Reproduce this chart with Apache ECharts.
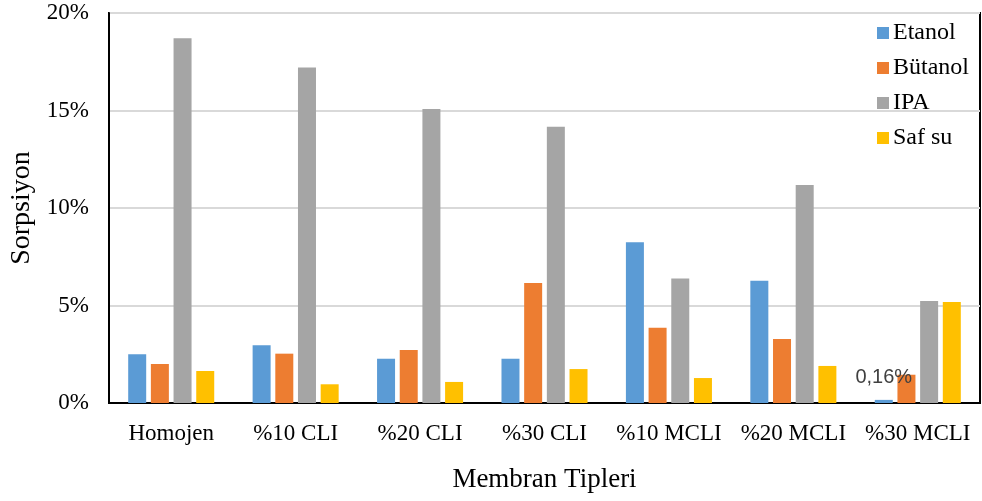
<!DOCTYPE html>
<html>
<head>
<meta charset="utf-8">
<script src="https://cdn.jsdelivr.net/npm/echarts@6/dist/echarts.min.js"></script>
<style>html,body{margin:0;padding:0;background:#fff;}#c{width:982px;height:501px;}</style>
</head>
<body>
<div id="c"></div>
<script>
const categories = ['Homojen', '%10 CLI', '%20 CLI', '%30 CLI', '%10 MCLI', '%20 MCLI', '%30 MCLI'];
const etanol  = [2.50, 2.96, 2.27, 2.27, 8.24, 6.27, 0.16];
const butanol = [2.00, 2.53, 2.72, 6.15, 3.86, 3.28, 1.45];
const ipa     = [18.70, 17.20, 15.08, 14.17, 6.39, 11.18, 5.23];
const safSu   = [1.64, 0.96, 1.08, 1.74, 1.28, 1.90, 5.18];
const etanolLabels = ['', '', '', '', '', '', '0,16%'];
const yTicks = [0, 5, 10, 15, 20];

const serif = 'Liberation Serif';
const chart = echarts.init(document.getElementById('c'));
function bar(name, data, color, extra) {
  return Object.assign({
    name: name, type: 'bar', data: data, barWidth: 18, barGap: '26%',
    itemStyle: { color: color }
  }, extra || {});
}
chart.setOption({
  animation: false,
  backgroundColor: '#fff',
  grid: { left: 109, right: 2, top: 13, bottom: 98, show: true, borderColor: '#000', borderWidth: 2,
          containLabel: false, outerBoundsMode: 'none' },
  legend: {
    orient: 'vertical', left: 872, top: 16, itemWidth: 12, itemHeight: 12, itemGap: 11,
    icon: 'rect',
    textStyle: { fontFamily: serif, fontSize: 24, color: '#000', padding: [0, 0, 0, -1] },
    data: ['Etanol', 'Bütanol', 'IPA', 'Saf su']
  },
  xAxis: {
    type: 'category', data: categories,
    name: 'Membran Tipleri', nameLocation: 'middle', nameGap: 63,
    nameTextStyle: { fontFamily: serif, fontSize: 27, color: '#000' },
    axisLine: { lineStyle: { color: '#000', width: 2 } },
    axisTick: { show: false },
    axisLabel: { interval: 0, fontFamily: serif, fontSize: 23, color: '#000', margin: 19 }
  },
  yAxis: {
    type: 'value', min: yTicks[0], max: yTicks[yTicks.length - 1], interval: 5,
    name: 'Sorpsiyon', nameLocation: 'middle', nameGap: 72,
    nameTextStyle: { fontFamily: serif, fontSize: 28, color: '#000' },
    axisLine: { show: true, lineStyle: { color: '#000', width: 2 } },
    axisTick: { show: false },
    axisLabel: { fontFamily: serif, fontSize: 23, color: '#000', margin: 20, formatter: '{value}%' },
    splitLine: { lineStyle: { color: '#d9d9d9', width: 2 } }
  },
  series: [
    bar('Etanol', etanol, '#5B9BD5', {
      label: {
        show: true, position: 'top', distance: 12,
        fontFamily: 'Liberation Sans', fontSize: 20, color: '#404040',
        formatter: p => etanolLabels[p.dataIndex]
      },
      z: 3
    }),
    bar('Bütanol', butanol, '#ED7D31', { z: 2 }),
    bar('IPA', ipa, '#A5A5A5', { z: 2 }),
    bar('Saf su', safSu, '#FFC000', { z: 2 })
  ]
});
</script>
</body>
</html>
